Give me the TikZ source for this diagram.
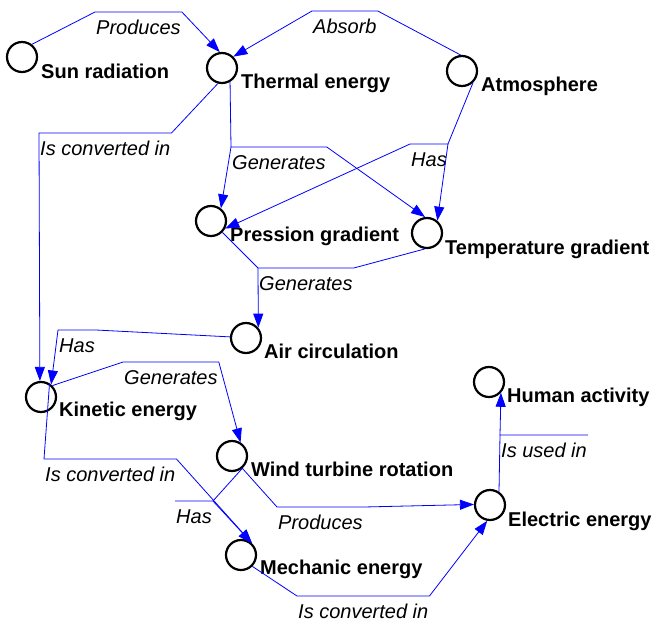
\documentclass[tikz,border=0pt]{standalone}
\usepackage{fontspec}
\setmainfont{Liberation Sans}
\usetikzlibrary{arrows.meta,calc}

\begin{document}
\begin{tikzpicture}[
		x=1pt, y=-1pt,
		>={Triangle[length=14pt,width=10pt]},
		concept/.style = {circle, draw, line width=2.2pt, minimum size=30pt, inner sep=0pt},
		ctext/.style   = {anchor=base west, inner sep=0pt, font=\fontsize{20}{24}\selectfont\bfseries},
		lphrase/.style = {anchor=north west, inner xsep=1pt, inner ysep=0pt,
		                  text height=22.5pt, text depth=5pt, font=\fontsize{20}{24}\selectfont\itshape},
		link/.style    = {blue, line width=0.8pt}
		]
		\useasboundingbox (0,0) rectangle (656,624);
		
		%--- concepts ---
		\node[concept] (sun)   at ( 22, 57) {};
		\node[concept] (therm) at (222, 68) {};
		\node[concept] (atm)   at (462, 71) {};
		\node[concept] (pres)  at (211,221) {};
		\node[concept] (temp)  at (427,233) {};
		\node[concept] (air)   at (246,338) {};
		\node[concept] (kin)   at ( 41,397) {};
		\node[concept] (wind)  at (232,456) {};
		\node[concept] (mech)  at (241,555) {};
		\node[concept] (elec)  at (490,505) {};
		\node[concept] (hum)   at (489,382) {};
		
		\node[ctext] (sun-t)   at ($(sun)+(19,21)$)   {Sun radiation};
		\node[ctext] (therm-t) at ($(therm)+(19,20)$) {Thermal energy};
		\node[ctext] (atm-t)   at ($(atm)+(19,20)$)   {Atmosphere};
		\node[ctext] (pres-t)  at ($(pres)+(19,20)$)  {Pression gradient};
		\node[ctext] (temp-t)  at ($(temp)+(18,21)$)  {Temperature gradient};
		\node[ctext] (air-t)   at ($(air)+(18,20)$)   {Air circulation};
		\node[ctext] (kin-t)   at ($(kin)+(18,19)$)   {Kinetic energy};
		\node[ctext] (wind-t)  at ($(wind)+(19,20)$)  {Wind turbine rotation};
		\node[ctext] (mech-t)  at ($(mech)+(19,19)$)  {Mechanic energy};
		\node[ctext] (elec-t)  at ($(elec)+(18,21)$)  {Electric energy};
		\node[ctext] (hum-t)   at ($(hum)+(18,20)$)   {Human activity};
		
		%--- linking phrases ---
		\node[lphrase] (prod1) at ( 95, 12) {Produces};
		\node[lphrase] (absorb) at (312, 11) {Absorb};
		\node[lphrase] (conv1) at ( 39,133) {Is converted in};
		\node[lphrase] (gen1)  at (231,147) {Generates};
		\node[lphrase] (has1)  at (410,144) {Has};
		\node[lphrase] (gen2)  at (258,268) {Generates};
		\node[lphrase] (has2)  at ( 58,330) {Has};
		\node[lphrase] (gen3)  at (123,362) {Generates};
		\node[lphrase] (conv2) at ( 44,459) {Is converted in};
		\node[lphrase] (has3)  at (175,501) {Has};
		\node[lphrase] (prod2) at (277,507) {Produces};
		\node[lphrase] (conv3) at (297,596) {Is converted in};
		\node[lphrase] (used)  at (500,435) {Is used in};
		
		%--- connections ---
		\draw[link,->] (sun.52) -- (prod1.north west) -- (prod1.north east) -- (therm.98);
		\draw[link,->] (atm.95) -- (absorb.north east) -- (absorb.north west) -- (therm.45);
		\draw[link,->] (therm.255) -- (conv1.north east) -- (conv1.north west) -- (kin.94);
		
		\draw[link] (therm.300) -- (gen1.north west) -- (gen1.north east);
		\draw[link,->] (gen1.north west) -- (pres.52);
		\draw[link,->] (gen1.north east) -- (temp.97);
		
		\draw[link] (atm.-47) -- (has1.north east) -- (has1.north west);
		\draw[link,->] (has1.north west) -- (pres.-28);
		\draw[link,->] (has1.north east) -- (temp.50);
		
		\draw[link] (pres.-45) -- (gen2.north west) -- (gen2.north east) -- (temp.-98);
		\draw[link,->] (gen2.north west) -- (air.40);
		
		\draw[link,->] (air.176) -- (has2.north east) -- (has2.north west) -- (kin.51);
		\draw[link,->] (kin.45) -- (gen3.north west) -- (gen3.north east) -- (wind.58);
		\draw[link,->] (kin.58) -- (conv2.north west) -- (conv2.north east) -- (mech.47);
		
		\draw[link] (wind.-50) -- (has3.north east) -- (has3.north west);
		\draw[link,->] (has3.north east) -- (mech.47);
		\draw[link,->] (wind.-50) -- (prod2.north west) -- (prod2.north east) -- (elec.178);
		\draw[link,->] (mech.-45) -- (conv3.north west) -- (conv3.north east) -- (elec.260);
		
		\draw[link] (elec.56) -- (used.north west) -- (used.north east);
		\draw[link,->] (used.north west) -- (hum.-42);
	\end{tikzpicture}
\end{document}
